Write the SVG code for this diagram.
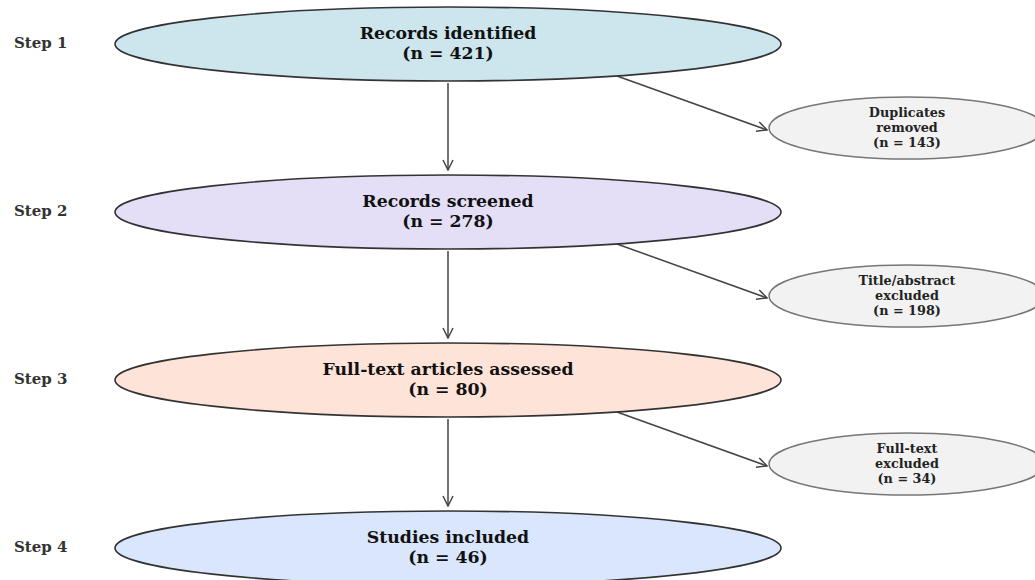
<svg xmlns="http://www.w3.org/2000/svg" width="1035" height="580" viewBox="0 0 1035 580">
<style>
.main{stroke:#333;stroke-width:1.6}
.side{fill:#f2f2f2;stroke:#777;stroke-width:1.5}
.mt{font-family:"DejaVu Serif",serif;font-weight:bold;font-size:17.3px;fill:#111;text-anchor:middle}
.st{font-family:"DejaVu Serif",serif;font-weight:bold;font-size:12.8px;fill:#222;text-anchor:middle}
.step{font-family:"DejaVu Serif",serif;font-weight:bold;font-size:15px;fill:#333}
.c{stroke:#444;stroke-width:1.5;fill:none;marker-end:url(#ah)}
</style>
<defs>
<marker id="ah" viewBox="0 0 12 12" refX="11" refY="6" markerWidth="12" markerHeight="12" markerUnits="userSpaceOnUse" orient="auto">
<path d="M1,1 L11,6 L1,11" fill="none" stroke="#444" stroke-width="1.5"/>
</marker>
</defs>
<rect width="1035" height="580" fill="#fff"/>
<g id="connectors">
<line class="c" x1="448" y1="83" x2="448" y2="170"/>
<line class="c" x1="448" y1="251" x2="448" y2="338"/>
<line class="c" x1="448" y1="419" x2="448" y2="506"/>
<line class="c" x1="617" y1="76" x2="767" y2="130"/>
<line class="c" x1="617" y1="244" x2="767" y2="298"/>
<line class="c" x1="617" y1="412" x2="767" y2="466"/>
</g>
<g id="step-labels">
<text class="step" x="14" y="48">Step 1</text>
<text class="step" x="14" y="216">Step 2</text>
<text class="step" x="14" y="384">Step 3</text>
<text class="step" x="14" y="552">Step 4</text>
</g>
<g id="n1">
<ellipse class="main" cx="448" cy="44" rx="333" ry="37" fill="#cde5ec"/>
<text class="mt" x="448" y="39">Records identified</text>
<text class="mt" x="448" y="59">(n = 421)</text>
</g>
<g id="n2">
<ellipse class="main" cx="448" cy="212" rx="333" ry="37" fill="#e4dff7"/>
<text class="mt" x="448" y="207">Records screened</text>
<text class="mt" x="448" y="227">(n = 278)</text>
</g>
<g id="n3">
<ellipse class="main" cx="448" cy="380" rx="333" ry="37" fill="#fde3d8"/>
<text class="mt" x="448" y="375">Full-text articles assessed</text>
<text class="mt" x="448" y="395">(n = 80)</text>
</g>
<g id="n4">
<ellipse class="main" cx="448" cy="548" rx="333" ry="37" fill="#d9e6fb"/>
<text class="mt" x="448" y="543">Studies included</text>
<text class="mt" x="448" y="563">(n = 46)</text>
</g>
<g id="s1">
<ellipse class="side" cx="907" cy="128" rx="138" ry="31"/>
<text class="st" x="907" y="117">Duplicates</text>
<text class="st" x="907" y="132">removed</text>
<text class="st" x="907" y="147">(n = 143)</text>
</g>
<g id="s2">
<ellipse class="side" cx="907" cy="296" rx="138" ry="31"/>
<text class="st" x="907" y="285">Title/abstract</text>
<text class="st" x="907" y="300">excluded</text>
<text class="st" x="907" y="315">(n = 198)</text>
</g>
<g id="s3">
<ellipse class="side" cx="907" cy="464" rx="138" ry="31"/>
<text class="st" x="907" y="453">Full-text</text>
<text class="st" x="907" y="468">excluded</text>
<text class="st" x="907" y="483">(n = 34)</text>
</g>
</svg>
